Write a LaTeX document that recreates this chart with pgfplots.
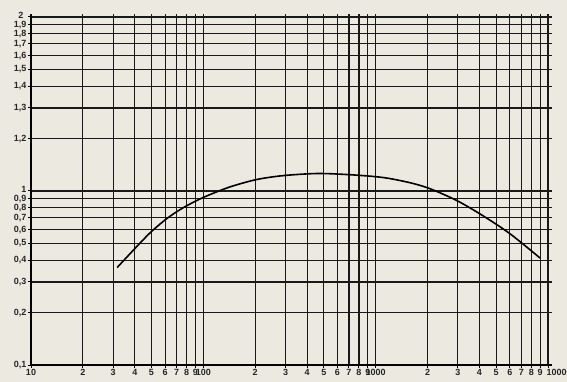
\documentclass[border=0pt]{standalone}
\usepackage{pgfplots}
\pgfplotsset{compat=1.18}
\usepackage{fontspec}
\setsansfont{Liberation Sans}
\definecolor{bg}{RGB}{236,233,225}
\begin{document}
\begin{tikzpicture}
\fill[bg] (-31pt,-17pt) rectangle (536pt,365pt);
\begin{axis}[
  at={(0pt,0pt)}, anchor=south west,
  scale only axis, width=521pt, height=351pt,
  xmode=log, ymode=log,
  xmin=10, xmax=10550, ymin=0.1, ymax=10.4,
  axis lines*=left,
  axis line style={line width=1.5pt, -},
  xtick={10,20,30,40,50,60,70,80,90,100,200,300,400,500,600,700,800,900,1000,2000,3000,4000,5000,6000,7000,8000,9000,10000},
  xticklabels={10,2,3,4,5,6,7,8,9,100,2,3,4,5,6,7,8,9,1000,2,3,4,5,6,7,8,9,\makebox[0pt][l]{\hspace*{-1.5pt}10000}},
  ytick={0.1,0.2,0.3,0.4,0.5,0.6,0.7,0.8,0.9,1,2,3,4,5,6,7,8,9,10},
  yticklabels={{0,1},{0,2},{0,3},{0,4},{0,5},{0,6},{0,7},{0,8},{0,9},\raisebox{2.5pt}{1},{1,2},{1,3},{1,4},{1,5},{1,6},{1,7},{1,8},{1,9},\raisebox{3pt}{2\hspace*{3pt}}},
  minor tick num=0,
  grid=major,
  major grid style={black!90, line width=1.1pt},
  tick style={black, line width=1pt},
  tick align=outside, major tick length=3pt,
  tick label style={font=\sffamily\bfseries\fontsize{9}{9}\selectfont, text=black!85, inner sep=0.5pt},
  xticklabel style={yshift=-1pt},
  yticklabel style={xshift=-1pt},
  clip=false,
]
\addplot[black, line width=1.6pt, smooth] coordinates {
 (31.6,0.363) (39.1,0.455) (49.1,0.575) (61.5,0.695) (76.2,0.80) (95.7,0.90)
 (120,0.99) (149,1.07) (205,1.165) (290,1.225) (457,1.26) (710,1.24)
 (1104,1.195) (1585,1.115) (2070,1.03) (2965,0.88) (4200,0.72) (6030,0.567) (8990,0.412)
};
\end{axis}
\pgfresetboundingbox
\path (-31pt,-17pt) rectangle (536pt,365pt);
\end{tikzpicture}
\end{document}
